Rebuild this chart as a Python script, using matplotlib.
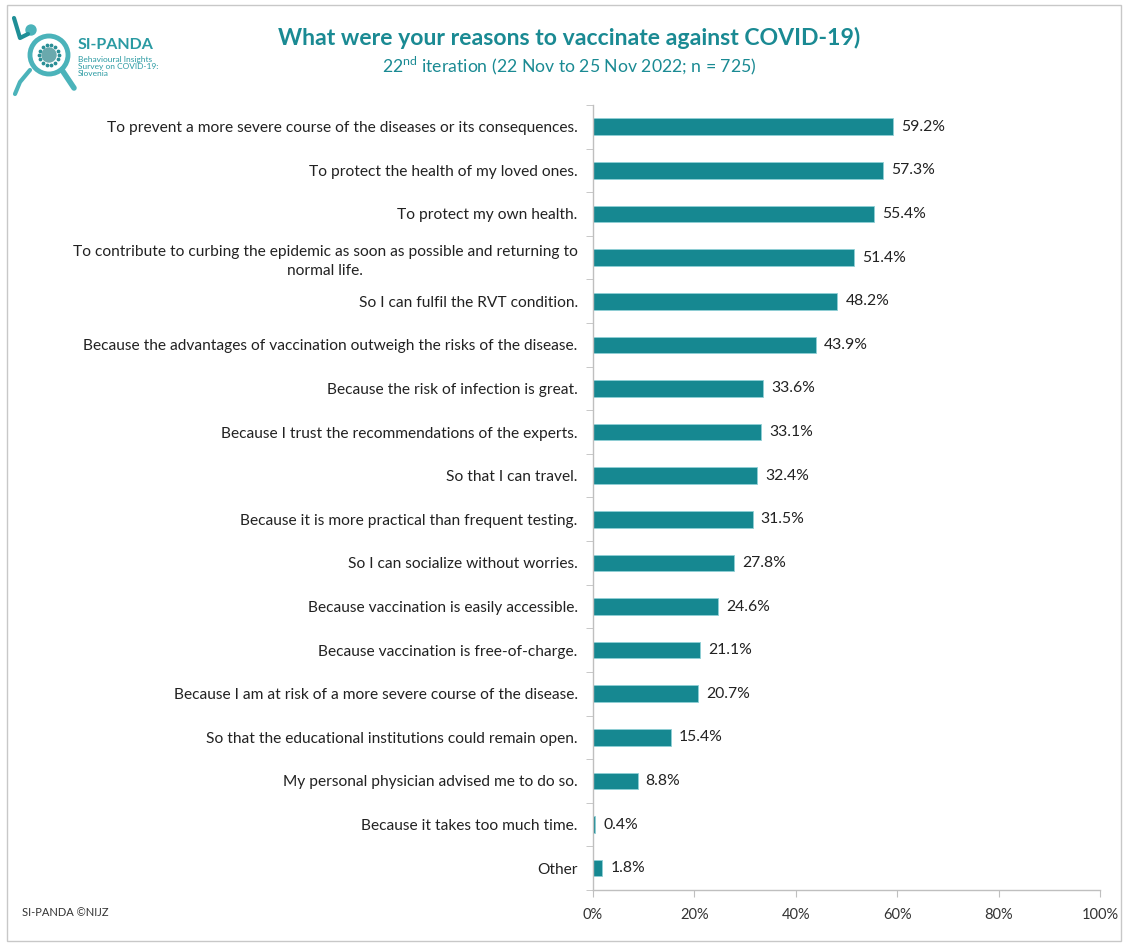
import numpy as np
import matplotlib.pyplot as plt
import matplotlib.patches as patches
from matplotlib.ticker import FuncFormatter, FixedLocator

plt.rcParams['font.family'] = ['Lato', 'DejaVu Sans']
plt.rcParams['mathtext.fontset'] = 'custom'
plt.rcParams['mathtext.rm'] = 'Lato'

reasons = [
    'To prevent a more severe course of the diseases or its consequences.',
    'To protect the health of my loved ones.',
    'To protect my own health.',
    'To contribute to curbing the epidemic as soon as possible and returning to\nnormal life.',
    'So I can fulfil the RVT condition.',
    'Because the advantages of vaccination outweigh the risks of the disease.',
    'Because the risk of infection is great.',
    'Because I trust the recommendations of the experts.',
    'So that I can travel.',
    'Because it is more practical than frequent testing.',
    'So I can socialize without worries.',
    'Because vaccination is easily accessible.',
    'Because vaccination is free-of-charge.',
    'Because I am at risk of a more severe course of the disease.',
    'So that the educational institutions could remain open.',
    'My personal physician advised me to do so.',
    'Because it takes too much time.',
    'Other',
]
shares = [59.2, 57.3, 55.4, 51.4, 48.2, 43.9, 33.6, 33.1, 32.4, 31.5,
          27.8, 24.6, 21.1, 20.7, 15.4, 8.8, 0.4, 1.8]

teal = '#168891'
title_col = '#1a8a93'
grey = '#bfbfbf'

fig = plt.figure(figsize=(11.23, 9.43), dpi=100)
ax = fig.add_axes([0.528, 0.0562, 0.4515, 0.8325])

y = np.arange(len(reasons))
ax.barh(y, shares, height=0.38, color=teal, edgecolor='#8fd0d6', linewidth=0.6)
for yi, v in zip(y, shares):
    ax.text(v + 1.6, yi, f'{v:.1f}%', va='center', ha='left', fontsize=11.3, color='#222222')

ax.set_ylim(len(reasons) - 0.5, -0.5)
ax.set_xlim(0, 100)
ax.set_yticks(y)
ax.set_yticklabels(reasons, fontsize=11.2, color='#222222', multialignment='center',
                   linespacing=1.45)
ax.yaxis.set_minor_locator(FixedLocator(np.arange(-0.5, len(reasons), 1)))
ax.tick_params(axis='y', which='major', length=0, pad=11)
ax.tick_params(axis='y', which='minor', length=5, color=grey, direction='out')
ax.set_xticks(np.arange(0, 101, 20))
ax.xaxis.set_major_formatter(FuncFormatter(lambda v, p: f'{v:.0f}%'))
ax.tick_params(axis='x', length=5, color=grey, labelsize=10.5, labelcolor='#333333', pad=8)
for s in ['top', 'right']:
    ax.spines[s].set_visible(False)
for s in ['left', 'bottom']:
    ax.spines[s].set_color(grey)
    ax.spines[s].set_linewidth(1)

# titles
fig.text(569 / 1123, 1 - 38 / 943, 'What were your reasons to vaccinate against COVID-19)',
         ha='center', va='center', fontsize=16.6, fontweight='bold', color=title_col)
fig.text(569 / 1123, 1 - 66 / 943, r'22$^{\mathrm{nd}}$ iteration (22 Nov to 25 Nov 2022; n = 725)',
         ha='center', va='center', fontsize=12.7, color=title_col)

# footer
fig.text(22 / 1123, 1 - 912 / 943, 'SI-PANDA ©NIJZ', ha='left', va='center', fontsize=8, color='#333333')

# logo
lax = fig.add_axes([0, 1 - 110 / 943, 200 / 1123, 110 / 943])
lax.set_xlim(0, 200)
lax.set_ylim(110, 0)
lax.axis('off')
lax.add_patch(patches.Circle((49, 55), 19, fill=False, edgecolor='#4bb3ba', linewidth=3.5))
lax.plot([62, 74], [70, 88], color='#4bb3ba', linewidth=4, solid_capstyle='round')
lax.plot([14, 20, 28], [18, 38, 34], color='#1f8f97', linewidth=3, solid_capstyle='round')
lax.add_patch(patches.Circle((31, 30), 5, color='#4bb3ba'))
lax.plot([30, 20, 15], [70, 82, 94], color='#4bb3ba', linewidth=3, solid_capstyle='round')
ang = np.linspace(0, 2 * np.pi, 14, endpoint=False)
lax.scatter(49 + 10 * np.cos(ang), 55 + 10 * np.sin(ang), s=3, color='#2a8f96')
lax.add_patch(patches.Circle((49, 55), 7, color='#6aa9ad'))
lax.text(78, 45, 'SI-PANDA', fontsize=11.5, fontweight='bold', color='#2a9aa2', va='center')
lax.text(78, 56, 'Behavioural Insights\nSurvey on COVID-19:\nSlovenia', fontsize=6,
         color='#2a9aa2', va='top', linespacing=1.0)

# frame around the figure
fig.add_artist(patches.Rectangle((7 / 1123, 2 / 943), 1114 / 1123, 936 / 943,
                                 transform=fig.transFigure, fill=False,
                                 edgecolor='#c8c8c8', linewidth=1))

fig.savefig('out.png', dpi=100)
